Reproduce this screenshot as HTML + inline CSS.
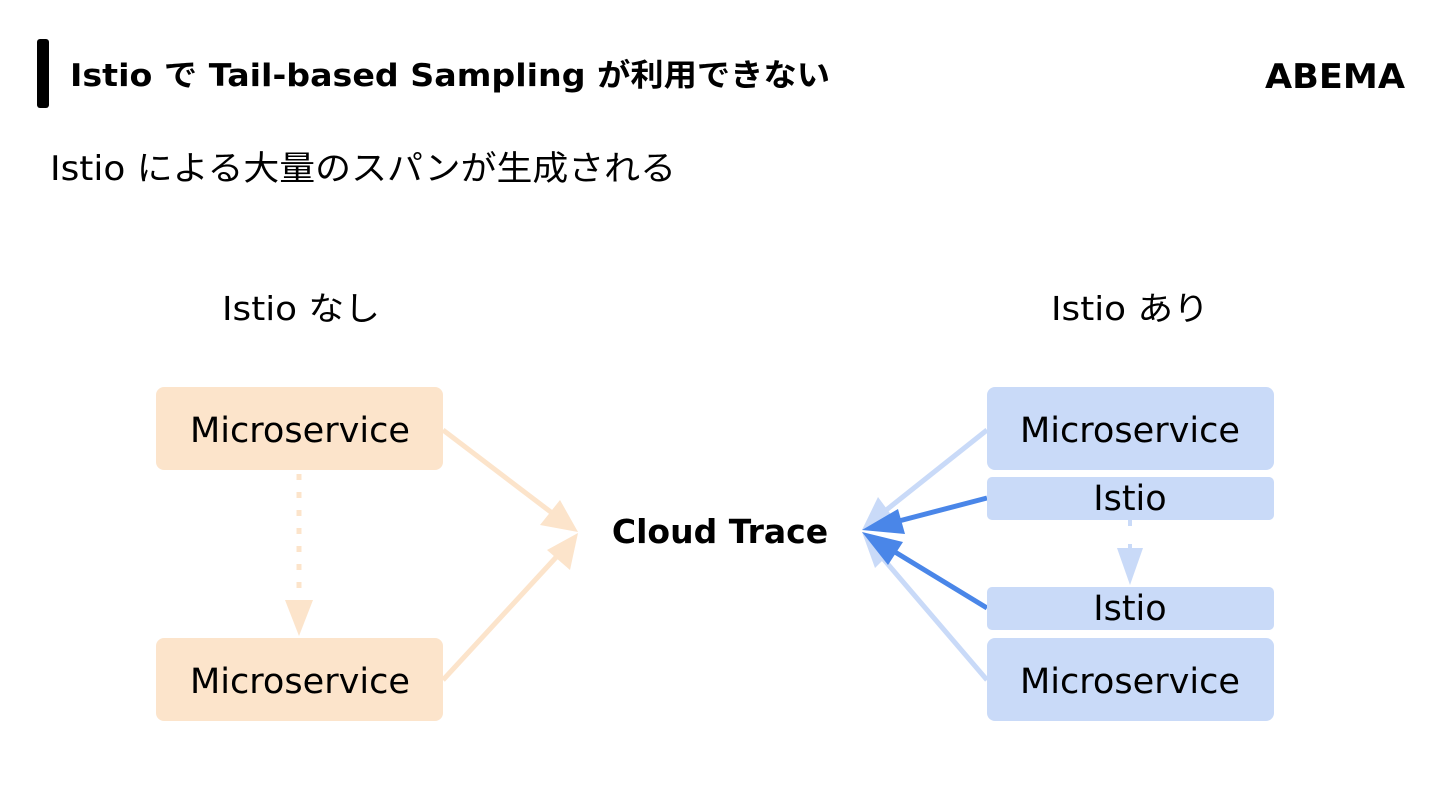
<!DOCTYPE html>
<html><head><meta charset="utf-8"><style>
body{margin:0;width:1440px;height:810px;background:#fff;overflow:hidden;font-family:"DejaVu Sans","Liberation Sans","Noto Sans CJK JP",sans-serif;}
</style></head><body>
<svg width="1440" height="810" xmlns="http://www.w3.org/2000/svg" style="position:absolute;left:0;top:0">
<rect x="37" y="39" width="12" height="69" rx="3" fill="#000"/>
<text x="70" y="86" font-size="31" font-weight="bold" fill="#000" textLength="760" lengthAdjust="spacingAndGlyphs" font-family="DejaVu Sans,Noto Sans CJK JP,sans-serif">Istio で Tail-based Sampling が利用できない</text>
<text x="1265" y="88" font-size="34" font-weight="bold" fill="#000" textLength="140" lengthAdjust="spacingAndGlyphs" font-family="DejaVu Sans,sans-serif">ABEMA</text>
<text x="50" y="180" font-size="34" fill="#000" textLength="626" lengthAdjust="spacingAndGlyphs" font-family="DejaVu Sans,Noto Sans CJK JP,sans-serif">Istio による大量のスパンが生成される</text>
<text x="222" y="320" font-size="33" fill="#000" textLength="158" lengthAdjust="spacingAndGlyphs" font-family="DejaVu Sans,Noto Sans CJK JP,sans-serif">Istio なし</text>
<text x="1051" y="320" font-size="33" fill="#000" textLength="158" lengthAdjust="spacingAndGlyphs" font-family="DejaVu Sans,Noto Sans CJK JP,sans-serif">Istio あり</text>

<!-- left connectors -->
<line x1="443" y1="430" x2="556" y2="516" stroke="#fce4cb" stroke-width="5"/>
<polygon points="578,532 540,525 560,500" fill="#fce4cb"/>
<line x1="443" y1="680" x2="560" y2="553" stroke="#fce4cb" stroke-width="5"/>
<polygon points="578,533 570,570 547,550" fill="#fce4cb"/>
<line x1="299" y1="474" x2="299" y2="600" stroke="#fce4cb" stroke-width="5" stroke-dasharray="6,12"/>
<polygon points="285,600 313,600 299,636" fill="#fce4cb"/>

<rect x="156" y="387" width="287" height="83" rx="8" fill="#fce4cb"/>
<rect x="156" y="638" width="287" height="83" rx="8" fill="#fce4cb"/>
<text x="300" y="442" font-size="35" text-anchor="middle" fill="#000" textLength="220" lengthAdjust="spacingAndGlyphs">Microservice</text>
<text x="300" y="693" font-size="35" text-anchor="middle" fill="#000" textLength="220" lengthAdjust="spacingAndGlyphs">Microservice</text>

<text x="720" y="543" font-size="33" font-weight="bold" text-anchor="middle" fill="#000">Cloud Trace</text>

<!-- right connectors -->
<line x1="987" y1="430" x2="880" y2="515" stroke="#c9daf8" stroke-width="5"/>
<polygon points="862,530 878,497 895,520" fill="#c9daf8"/>
<line x1="987" y1="680" x2="880" y2="555" stroke="#c9daf8" stroke-width="5"/>
<polygon points="862,532 895,548 875,568" fill="#c9daf8"/>
<line x1="987" y1="498" x2="895" y2="522" stroke="#4a86e8" stroke-width="5"/>
<polygon points="862,530 898,509 905,534" fill="#4a86e8"/>
<line x1="987" y1="608" x2="895" y2="552" stroke="#4a86e8" stroke-width="5"/>
<polygon points="862,532 903,542 888,565" fill="#4a86e8"/>
<line x1="1130" y1="520" x2="1130" y2="556" stroke="#c9daf8" stroke-width="4" stroke-dasharray="6,18"/>
<polygon points="1117,548 1143,548 1130,585" fill="#c9daf8"/>

<rect x="987" y="387" width="287" height="83" rx="8" fill="#c9daf8"/>
<rect x="987" y="477" width="287" height="43" rx="5" fill="#c9daf8"/>
<rect x="987" y="587" width="287" height="43" rx="5" fill="#c9daf8"/>
<rect x="987" y="638" width="287" height="83" rx="8" fill="#c9daf8"/>
<text x="1130" y="442" font-size="35" text-anchor="middle" fill="#000" textLength="220" lengthAdjust="spacingAndGlyphs">Microservice</text>
<text x="1130" y="510" font-size="35" text-anchor="middle" fill="#000">Istio</text>
<text x="1130" y="620" font-size="35" text-anchor="middle" fill="#000">Istio</text>
<text x="1130" y="693" font-size="35" text-anchor="middle" fill="#000" textLength="220" lengthAdjust="spacingAndGlyphs">Microservice</text>
</svg>
</body></html>
